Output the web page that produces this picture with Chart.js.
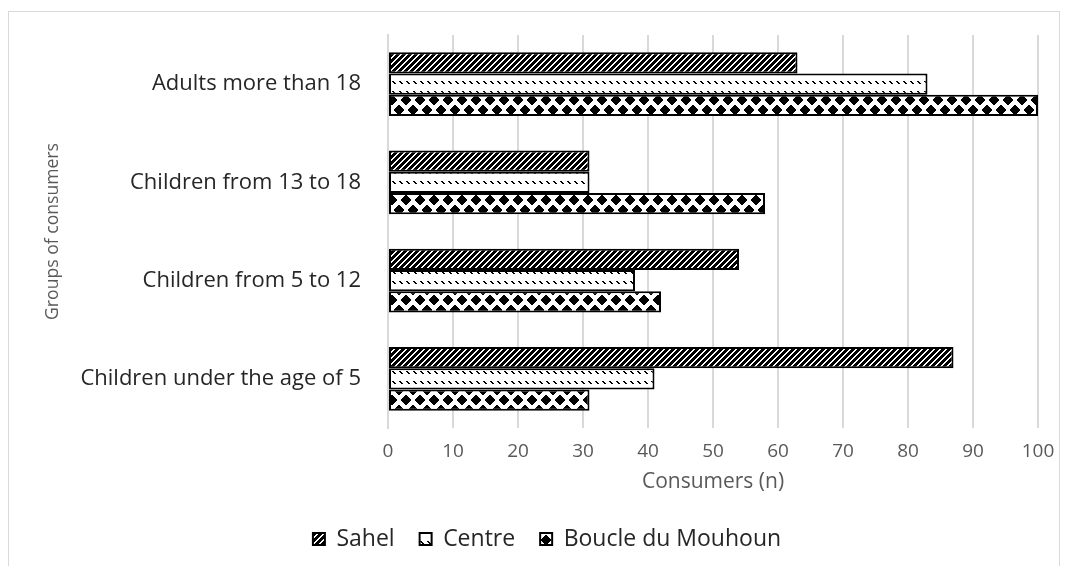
<!DOCTYPE html>
<html>
<head>
<meta charset="utf-8">
<script src="https://cdn.jsdelivr.net/npm/chart.js@4"></script>
<style>
  html, body { margin: 0; padding: 0; background: #ffffff; }
  #wrap { width: 1068px; height: 566px; position: relative; }
</style>
</head>
<body>
<div id="wrap"><canvas id="c" width="1068" height="566"></canvas></div>
<script>
// ---- data ----
const categories = ["Adults more than 18", "Children from 13 to 18", "Children from 5 to 12", "Children under the age of 5"];
const seriesNames = ["Sahel", "Centre", "Boucle du Mouhoun"];
const sahel  = [63, 31, 54, 87];
const centre = [83, 31, 38, 41];
const boucle = [100, 58, 42, 31];
const xTicks = [0, 10, 20, 30, 40, 50, 60, 70, 80, 90, 100];

// ---- fill patterns ----
function makePattern(w, h, isBlack) {
  const c = document.createElement('canvas');
  c.width = w; c.height = h;
  const g = c.getContext('2d');
  const img = g.createImageData(w, h);
  for (let y = 0; y < h; y++) {
    for (let x = 0; x < w; x++) {
      const i = (y * w + x) * 4;
      const v = isBlack(x, y) ? 0 : 255;
      img.data[i] = v; img.data[i + 1] = v; img.data[i + 2] = v; img.data[i + 3] = 255;
    }
  }
  g.putImageData(img, 0, 0);
  return document.getElementById('c').getContext('2d').createPattern(c, 'repeat');
}
// Sahel: dark upward diagonal stripes
const patSahel = makePattern(6, 6, (x, y) => ((x + y) % 6) < 4);
// Centre: dashed downward diagonal
const patCentre = makePattern(7, 10, (x, y) => {
  const pts = [[0,1],[1,1],[1,2],[2,2],[2,3],[3,3]];
  return pts.some(p => p[0] === x && p[1] === y);
});
// Boucle: solid diamonds
const patBoucle = makePattern(14, 20, (x, y) => {
  const centers = [[0,0],[14,0],[0,20],[14,20],[7,10]];
  return centers.some(([cx, cy]) => Math.abs(x + 0.5 - cx) / 5.6 + Math.abs(y + 0.5 - cy) / 5.6 <= 1);
});

const borderPlugin = {
  id: 'outerBorder',
  beforeDraw(chart) {
    const ctx = chart.ctx;
    ctx.save();
    ctx.fillStyle = '#ffffff';
    ctx.fillRect(0, 0, chart.width, chart.height);
    ctx.strokeStyle = '#d9d9d9';
    ctx.lineWidth = 1;
    ctx.strokeRect(8.5, 11.5, 1051, 580);
    ctx.restore();
  },
  afterLayout(chart) {
    if (chart.legend) { chart.legend.left += 9; chart.legend.right += 9; }
  }
};

const FONT = "'Open Sans', 'Noto Sans', sans-serif";

new Chart(document.getElementById('c'), {
  type: 'bar',
  data: {
    labels: categories,
    datasets: [
      { label: seriesNames[0], data: sahel,  backgroundColor: patSahel },
      { label: seriesNames[1], data: centre, backgroundColor: patCentre },
      { label: seriesNames[2], data: boucle, backgroundColor: patBoucle }
    ]
  },
  options: {
    indexAxis: 'y',
    responsive: false,
    animation: false,
    devicePixelRatio: 1,
    datasets: {
      bar: {
        categoryPercentage: 0.65,
        barPercentage: 1.0,
        borderColor: '#000000',
        borderWidth: 2,
        borderSkipped: false
      }
    },
    layout: { padding: { top: 35, right: 30, left: 38, bottom: 5.5 } },
    scales: {
      x: {
        min: 0, max: 100,
        afterBuildTicks(scale) { scale.ticks = xTicks.map(v => ({ value: v })); },
        afterFit(scale) { scale.height = 74.5; scale.paddingLeft = 0; scale.paddingRight = 0; },
        grid: { color: '#d9d9d9', lineWidth: 2, drawTicks: false },
        border: { display: false },
        ticks: { color: '#595959', font: { family: FONT, size: 19 }, padding: 12.6 },
        title: { display: true, text: 'Consumers (n)', color: '#595959',
                 font: { family: FONT, size: 21 }, padding: { top: 0, bottom: 7.9 } }
      },
      y: {
        afterFit(scale) { scale.width = 350; scale.paddingTop = 0; scale.paddingBottom = 0; },
        grid: { display: false, drawTicks: false },
        border: { display: true, color: '#d9d9d9', width: 2 },
        ticks: { color: '#262626', font: { family: FONT, size: 22 }, padding: 27 },
        title: { display: true, text: 'Groups of consumers', color: '#595959',
                 font: { family: FONT, size: 17.6 }, padding: { top: 4, bottom: 0 } }
      }
    },
    plugins: {
      legend: {
        position: 'bottom',
        labels: {
          color: '#262626',
          font: { family: FONT, size: 23 },
          boxWidth: 12, boxHeight: 12,
          padding: 25
        }
      },
      tooltip: { enabled: false }
    }
  },
  plugins: [borderPlugin]
});
</script>
</body>
</html>
